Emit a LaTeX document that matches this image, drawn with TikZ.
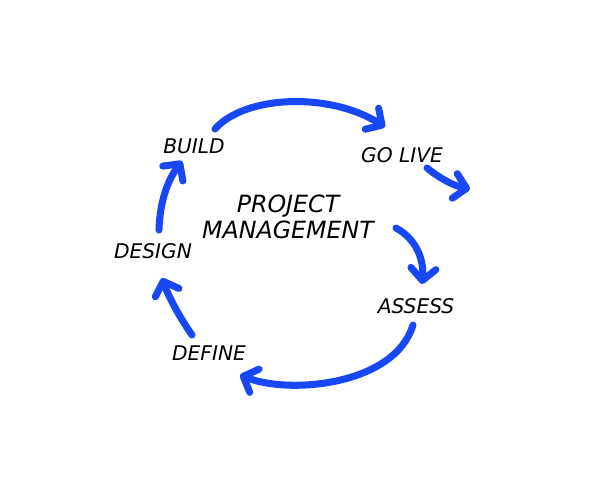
\documentclass[tikz,border=0pt]{standalone}
\usepackage{fontspec}
\newfontfamily\handfont{DejaVu Sans}
\usetikzlibrary{arrows.meta}
\definecolor{cycleblue}{RGB}{24,72,245}

\begin{document}
\begin{tikzpicture}[
  x=0.02cm, y=-0.02cm,
  step label/.style={font=\handfont\itshape\fontsize{11.5}{14}\selectfont},
  title label/.style={font=\handfont\itshape\fontsize{13.5}{16}\selectfont,align=center},
  flow/.style={cycleblue,line width=4pt,line cap=round,
    -{Straight Barb[length=2.4mm,width=5mm,round]}},
]
\useasboundingbox (0,0) rectangle (600,500);
% labels
\node[title label] (pm) at (288,217) {PROJECT\\[-1pt]MANAGEMENT};
\node[step label] (build) at (194,146) {BUILD};
\node[step label] (golive) at (402,155) {GO LIVE};
\node[step label] (design) at (153,251) {DESIGN};
\node[step label] (assess) at (416,306) {ASSESS};
\node[step label] (define) at (209,353) {DEFINE};
% arrow ends
\coordinate (b0) at (215,129);  \coordinate (b1) at (385,127);
\coordinate (g0) at (427,168);  \coordinate (g1) at (470,189);
\coordinate (m0) at (396,228);  \coordinate (m1) at (422,284);
\coordinate (a0) at (413,325);  \coordinate (a1) at (240,375);
\coordinate (f0) at (192,335);  \coordinate (f1) at (162,278);
\coordinate (d0) at (159,230);  \coordinate (d1) at (182,161);
% cycle arrows
\draw[flow] (b0) .. controls (245,95) and (330,92) .. (b1);
\draw[flow] (g0) .. controls (442,180) and (455,186) .. (g1);
\draw[flow] (m0) .. controls (418,240) and (424,262) .. (m1);
\draw[flow] (a0) .. controls (395,385) and (290,395) .. (a1);
\draw[flow] (f0) .. controls (178,315) and (168,295) .. (f1);
\draw[flow] (d0) .. controls (160,200) and (168,180) .. (d1);
\end{tikzpicture}
\end{document}
